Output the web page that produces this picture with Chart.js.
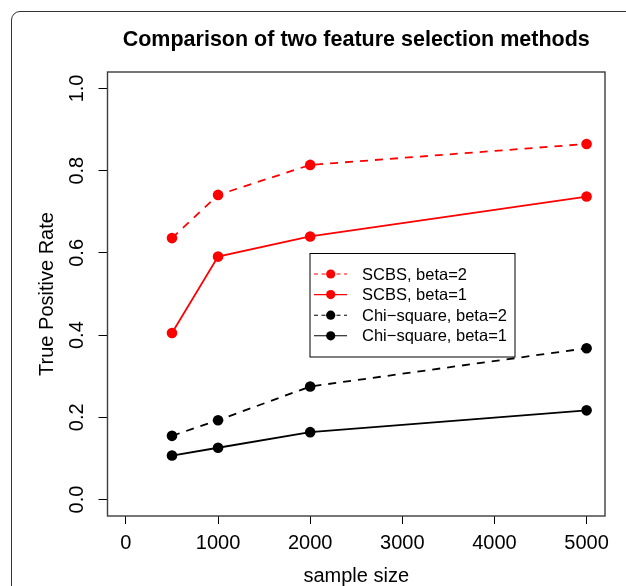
<!DOCTYPE html>
<html>
<head>
<meta charset="utf-8">
<script src="https://cdn.jsdelivr.net/npm/chart.js@4.4.0/dist/chart.umd.min.js"></script>
<style>
html, body { margin:0; padding:0; background:#fff; }
#wrap { position:relative; width:626px; height:586px; overflow:hidden; }
#frame { position:absolute; left:11px; top:11px; width:700px; height:700px; border:1px solid #333; border-radius:9px; }
#chart { position:absolute; left:0; top:0; }
</style>
</head>
<body>
<div id="wrap"><div id="frame"></div><canvas id="chart" width="626" height="586"></canvas></div>
<script>
// data
var sampleSizes = [500, 1000, 2000, 5000];
var scbsBeta2 = [0.636, 0.741, 0.814, 0.865];
var scbsBeta1 = [0.405, 0.591, 0.640, 0.737];
var chiBeta2  = [0.155, 0.193, 0.275, 0.368];
var chiBeta1  = [0.107, 0.126, 0.164, 0.217];
var seriesNames = ["SCBS, beta=2", "SCBS, beta=1", "Chi\u2212square, beta=2", "Chi\u2212square, beta=1"];
var xTicks = [0, 1000, 2000, 3000, 4000, 5000];
var yTicks = [0, 0.2, 0.4, 0.6, 0.8, 1.0];

var FONT = "'Liberation Sans', Arial, sans-serif";

function toPoints(ys){
	var pts = [];
	for (var i=0;i<sampleSizes.length;i++){
		pts.push({x: sampleSizes[i], y: ys[i]});
	}
	return pts;
}

function makeSet(label, ys, color, dashed){
	return {
		label: label,
		data: toPoints(ys),
		borderColor: color,
		backgroundColor: color,
		borderWidth: 1.8,
		borderDash: dashed ? [8, 7] : [],
		pointRadius: 5.3,
		pointBorderWidth: 0,
		pointBackgroundColor: color,
		tension: 0,
		dashed: dashed
	};
}

// box, rotated y labels, title and legend, R style
var basePlot = {
	id: 'basePlot',
	afterDraw: function(chart){
		var ctx = chart.ctx, a = chart.chartArea;
		ctx.save();
		ctx.strokeStyle = '#3c3c3c';
		ctx.lineWidth = 1.4;
		ctx.strokeRect(a.left, a.top, a.right - a.left, a.bottom - a.top);

		// y tick labels (rotated like R las=0)
		var ys = chart.scales.y;
		ctx.fillStyle = '#000';
		ctx.font = '20px ' + FONT;
		ctx.textAlign = 'center';
		ctx.textBaseline = 'middle';
		yTicks.forEach(function(v){
			ctx.save();
			ctx.translate(77, ys.getPixelForValue(v));
			ctx.rotate(-Math.PI/2);
			ctx.fillText(v.toFixed(1), 0, 0);
			ctx.restore();
		});

		// main title
		ctx.font = 'bold 21.5px ' + FONT;
		ctx.fillText('Comparison of two feature selection methods', (a.left + a.right)/2, 40);

		// legend
		var lx = 310, ly = 253.5, lw = 205, lh = 103.5, rowH = 20.6;
		ctx.fillStyle = '#fff';
		ctx.fillRect(lx, ly, lw, lh);
		ctx.strokeStyle = '#000';
		ctx.lineWidth = 1;
		ctx.strokeRect(lx, ly, lw, lh);
		ctx.font = '16.5px ' + FONT;
		ctx.textAlign = 'left';
		chart.data.datasets.forEach(function(ds, i){
			var y = ly + 20.5 + i*rowH;
			ctx.strokeStyle = ds.borderColor;
			ctx.lineWidth = 1.1;
			ctx.setLineDash(ds.dashed ? [4, 3.5] : []);
			ctx.beginPath();
			ctx.moveTo(314, y);
			ctx.lineTo(347, y);
			ctx.stroke();
			ctx.setLineDash([]);
			ctx.fillStyle = ds.borderColor;
			ctx.beginPath();
			ctx.arc(330.7, y, 4.6, 0, Math.PI*2);
			ctx.fill();
			ctx.fillStyle = '#000';
			ctx.fillText(ds.label, 362, y + 1);
		});
		ctx.restore();
	}
};

var chart = new Chart(document.getElementById('chart'), {
	type: 'line',
	data: {
		datasets: [
			makeSet(seriesNames[0], scbsBeta2, '#ff0000', true),
			makeSet(seriesNames[1], scbsBeta1, '#ff0000', false),
			makeSet(seriesNames[2], chiBeta2, '#000000', true),
			makeSet(seriesNames[3], chiBeta1, '#000000', false)
		]
	},
	options: {
		responsive: false,
		animation: false,
		devicePixelRatio: 1,
		layout: { padding: { left: 0, top: 72, right: 21, bottom: 0 } },
		plugins: {
			legend: { display: false },
			title: { display: false },
			tooltip: { enabled: false }
		},
		scales: {
			x: {
				type: 'linear',
				min: -200,
				max: 5200,
				afterBuildTicks: function(s){ s.ticks = xTicks.map(function(v){ return {value: v}; }); },
				afterFit: function(s){ s.height = 70; },
				border: { display: false },
				grid: { drawOnChartArea: false, drawTicks: true, tickLength: 8, tickColor: '#000', lineWidth: 1 },
				ticks: {
					color: '#000', autoSkip: false, maxRotation: 0, padding: 7,
					font: { family: FONT, size: 20 },
					callback: function(v){ return String(v); }
				},
				title: { display: true, text: 'sample size', color: '#000', font: { family: FONT, size: 20, lineHeight: 1 }, padding: { top: 0, bottom: 0 } }
			},
			y: {
				type: 'linear',
				min: -0.04,
				max: 1.04,
				afterBuildTicks: function(s){ s.ticks = yTicks.map(function(v){ return {value: v}; }); },
				afterFit: function(s){ s.width = 107.5; },
				border: { display: false },
				grid: { drawOnChartArea: false, drawTicks: true, tickLength: 9, tickColor: '#000', lineWidth: 1 },
				ticks: { display: false },
				title: { display: true, text: 'True Positive Rate', color: '#000', font: { family: FONT, size: 20, lineHeight: 1 }, padding: { top: 37, bottom: 0 } }
			}
		}
	},
	plugins: [basePlot]
});
</script>
</body>
</html>
